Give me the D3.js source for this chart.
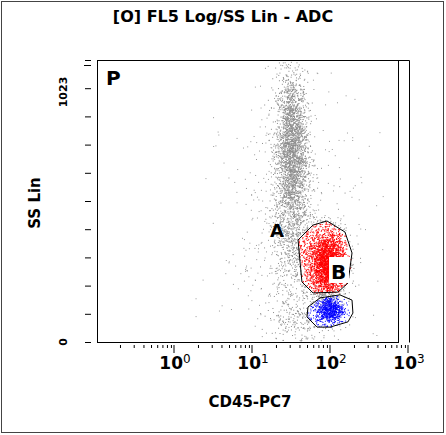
<!DOCTYPE html><html><head><meta charset="utf-8"><script src="https://cdn.jsdelivr.net/npm/d3@7"></script>
<style>body{margin:0;background:#fff}text{font-family:"DejaVu Sans",Verdana,sans-serif;font-weight:bold}</style></head><body><svg id="c" width="446" height="435"></svg><script>
// populations: [centre CD45, centre SS, log sd, SS sd, count, colour]
const populations=[
 {name:"lymph-gray band",cx:31,cy:700,sx:0.1,sy:140,n:2600,color:"#8c8c8c"},
 {name:"gray lower",cx:33,cy:380,sx:0.15,sy:120,n:700,color:"#8c8c8c"},
 {name:"gray diffuse",cx:32,cy:400,sx:0.45,sy:260,n:500,color:"#9a9a9a"},
 {name:"gray base",cx:42,cy:90,sx:0.22,sy:50,n:250,color:"#8c8c8c"},
 {name:"A",cx:88,cy:285,sx:0.12,sy:60,n:2800,color:"#ff0000"},
 {name:"B",cx:95,cy:118,sx:0.09,sy:25,n:700,color:"#0000ff"}];
const gateA=[[37.8,370],[58.7,424],[88.9,439],[151,399],[186,323],[165,214],[123,181],[58.7,178],[42.4,218]];
const gateB=[[50.7,127],[72.3,160],[130,171],[186,152],[191,105],[165,73],[97.1,54],[66.2,54],[49.2,91]];
const xTicks=[1,10,100,1000];
const yLabels=[[0,"0"],[1023,"1023"]];
const svg=d3.select("#c");
svg.append("rect").attr("x",1.5).attr("y",1.5).attr("width",442).attr("height",431).attr("fill","none").attr("stroke","#444");
const x=d3.scaleLog().domain([0.1,1000]).range([97,409]);
const y=d3.scaleLinear().domain([0,1023]).range([342,60]);
let s=12345;const rnd=()=>{s=(s*1103515245+12345)%2147483648;return s/2147483648};
const gauss=()=>{let u=rnd()||1e-9,v=rnd();return Math.sqrt(-2*Math.log(u))*Math.cos(2*Math.PI*v)};
const inPoly=(p,poly)=>d3.polygonContains(poly.map(q=>[x(q[0]),y(q[1])]),p);
const g=svg.append("g");
populations.forEach(p=>{
 for(let i=0;i<p.n;i++){
  const lx=Math.log10(p.cx)+gauss()*p.sx, vy=p.cy+gauss()*p.sy;
  const vx=Math.pow(10,lx);
  if(vx<0.15||vx>800||vy<5||vy>1150)continue;
  const px=x(vx),py=y(vy);if(py<61||px>396)continue;
  let col=p.color;
  if(p.name==="A"&&!inPoly([px,py],gateA))col="#8c8c8c";
  if(p.name==="B"&&!inPoly([px,py],gateB))col="#8c8c8c";
  if(p.name!=="A"&&p.name!=="B"&&inPoly([px,py],gateB))col="#0000ff";
  else if(p.name!=="A"&&p.name!=="B"&&inPoly([px,py],gateA))col="#ff0000";
  g.append("rect").attr("x",px).attr("y",py).attr("width",1).attr("height",1).attr("fill",col);
 }});
const line=d3.line().x(d=>x(d[0])).y(d=>y(d[1])).curve(d3.curveLinearClosed);
[gateA,gateB].forEach(gt=>svg.append("path").attr("d",line(gt)).attr("fill","none").attr("stroke","#000").attr("stroke-width",1));
svg.append("rect").attr("x",97.5).attr("y",60.5).attr("width",301).attr("height",282).attr("fill","none").attr("stroke","#000");
svg.append("path").attr("d","M398.5,60.5H409.5V342.5").attr("fill","none").attr("stroke","#000");
const xa=svg.append("g").attr("transform","translate(0,345)");
const minor=[];for(let d=-1;d<3;d++)for(let k=2;k<=9;k++)minor.push(k*Math.pow(10,d));
minor.forEach(v=>xa.append("line").attr("x1",x(v)).attr("x2",x(v)).attr("y1",0).attr("y2",3).attr("stroke","#000"));
xTicks.forEach((v,i)=>{xa.append("line").attr("x1",x(v)-1).attr("x2",x(v)-1).attr("y1",0).attr("y2",8).attr("stroke","#000");
 const t=xa.append("text").attr("x",x(v)).attr("y",24).attr("text-anchor","middle").attr("font-size",17).text("10");
 t.append("tspan").attr("dy",-6).attr("font-size",12).attr("font-weight","normal").text(i);});
const ya=svg.append("g");
d3.range(0,11).forEach(k=>ya.append("line").attr("x1",85).attr("x2",91).attr("y1",y(k*102.3)+0.5).attr("y2",y(k*102.3)+0.5).attr("stroke","#000"));
ya.append("line").attr("x1",84).attr("x2",91).attr("y1",65.5).attr("y2",65.5).attr("stroke","#000");
ya.append("text").attr("transform",`translate(67,${y(0)}) rotate(-90)`).attr("text-anchor","middle").attr("font-size",11).attr("font-weight","normal").text(yLabels[0][1]);
ya.append("text").attr("transform",`translate(67,${y(1023)+32}) rotate(-90)`).attr("text-anchor","middle").attr("font-size",11).attr("font-weight","normal").text(yLabels[1][1]);
svg.append("text").attr("x",223).attr("y",22).attr("text-anchor","middle").attr("font-size",16).text("[O] FL5 Log/SS Lin - ADC");
svg.append("text").attr("x",250).attr("y",407).attr("text-anchor","middle").attr("font-size",15).text("CD45-PC7");
svg.append("text").attr("transform","translate(40,203) rotate(-90)").attr("text-anchor","middle").attr("font-size",15).text("SS Lin");
svg.append("text").attr("x",106).attr("y",85).attr("font-size",20).text("P");
svg.append("text").attr("x",270).attr("y",237).attr("font-size",18).text("A");
svg.append("rect").attr("x",329).attr("y",257).attr("width",20).attr("height",26).attr("fill","#fff");
svg.append("text").attr("x",331).attr("y",279).attr("font-size",20).text("B");
</script></body></html>
